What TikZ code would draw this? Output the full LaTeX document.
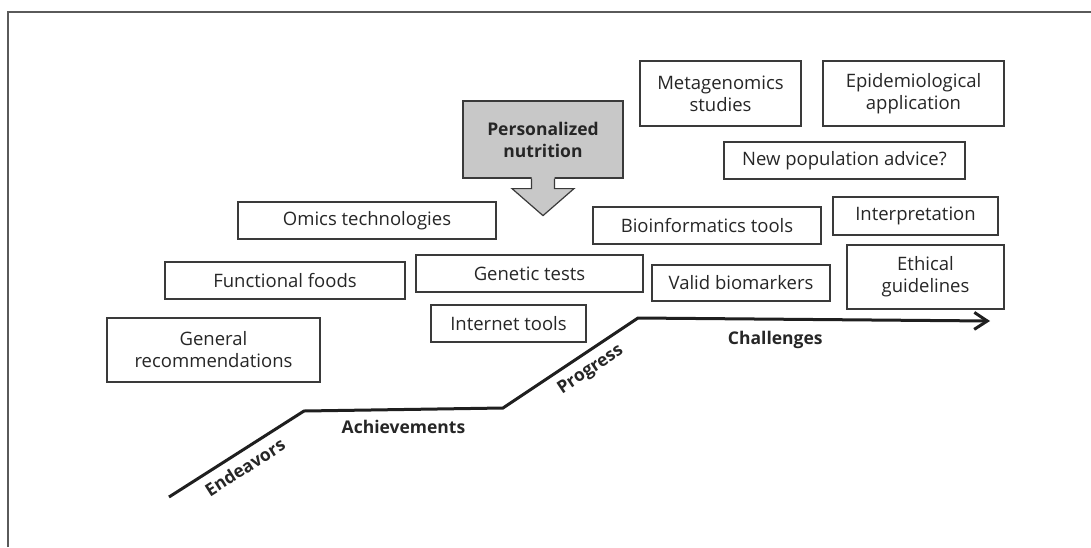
\documentclass[tikz,border=0pt]{standalone}
\usepackage{fontspec}
\setmainfont{Open Sans}
\usepackage{tikz}
\usetikzlibrary{arrows.meta,calc}
\definecolor{boxline}{HTML}{3A3A3A}
\definecolor{txt}{HTML}{262626}
\definecolor{pgray}{HTML}{C8C8C8}
\definecolor{framegray}{HTML}{5A5A5A}

\begin{document}
\begin{tikzpicture}[x=1pt,y=-1pt,
    item/.style={draw=boxline, line width=1.2pt, text=txt, align=center, inner sep=0pt,
      font=\fontsize{18.5}{22}\selectfont},
    steplbl/.style={text=txt, font=\bfseries\fontsize{17.5}{21}\selectfont},
    trend/.style={draw=black!88, line width=3pt, line join=miter}]

    \useasboundingbox (0,0) rectangle (1091,547);

    % frame
    \draw[framegray, line width=1.5pt] (8,547) -- (8,12) -- (1091,12);

    % Personalized nutrition
    \node[item, fill=pgray, font=\bfseries\fontsize{17.5}{22}\selectfont,
      minimum width=160pt, minimum height=77pt] (pnutr) at (543,139.5) {Personalized\\nutrition};
    \fill[pgray] ($(pnutr.south)+(-11.5,-1.5)$) -- ($(pnutr.south)+(-11.5,10)$) -- ($(pnutr.south)+(-31,10)$)
      -- ($(pnutr.south)+(0,37)$) -- ($(pnutr.south)+(31,10)$) -- ($(pnutr.south)+(11.5,10)$)
      -- ($(pnutr.south)+(11.5,-1.5)$) -- cycle;
    \draw[boxline, line width=1.2pt, line join=miter] ($(pnutr.south)+(-11.5,0)$) -- ($(pnutr.south)+(-11.5,10)$)
      -- ($(pnutr.south)+(-31,10)$) -- ($(pnutr.south)+(0,37)$) -- ($(pnutr.south)+(31,10)$)
      -- ($(pnutr.south)+(11.5,10)$) -- ($(pnutr.south)+(11.5,0)$);

    % Achievements side
    \node[item, minimum width=213pt, minimum height=64pt] (genrec) at (213.5,350) {General\\recommendations};
    \node[item, minimum width=240pt, minimum height=37pt] (funcfood) at (285,280.5) {Functional foods};
    \node[item, minimum width=258pt, minimum height=37pt] (omics) at (367,220.5) {Omics technologies};
    \node[item, minimum width=227pt, minimum height=37pt] (gentest) at (529.5,273.5) {Genetic tests};
    \node[item, minimum width=155pt, minimum height=37pt] (internet) at (508.5,323.5) {Internet tools};

    % Challenges side
    \node[item, minimum width=161pt, minimum height=65pt] (metagen) at (720.5,93.5) {Metagenomics\\studies};
    \node[item, minimum width=181pt, minimum height=65pt] (epidem) at (913.5,93.5) {Epidemiological\\application};
    \node[item, minimum width=241pt, minimum height=37pt] (newpop) at (844.5,160.5) {New population advice?};
    \node[item, minimum width=228pt, minimum height=37pt] (bioinf) at (707,225.5) {Bioinformatics tools};
    \node[item, minimum width=165pt, minimum height=38pt] (interp) at (915.5,216) {Interpretation};
    \node[item, minimum width=178pt, minimum height=36pt] (validbio) at (741,283) {Valid biomarkers};
    \node[item, minimum width=157pt, minimum height=64pt] (ethical) at (925.5,277) {Ethical\\guidelines};

    % trend line
    \coordinate (s0) at (169,497);
    \coordinate (s1) at (304,411);
    \coordinate (s2) at (503,408);
    \coordinate (s3) at (638,318);
    \coordinate (s4) at (990,321);
    \draw[trend, -{Straight Barb[length=13pt,width=17pt]}] (s0)
      -- node[steplbl, sloped, below=4pt, pos=0.5] (endeav) {Endeavors} (s1)
      -- node[steplbl, below=6pt] (achiev) {Achievements} (s2)
      -- node[steplbl, sloped, below=4pt, pos=0.58] (progr) {Progress} (s3)
      -- node[steplbl, below=7pt, pos=0.39] (chall) {Challenges} (s4);

\end{tikzpicture}
\end{document}
